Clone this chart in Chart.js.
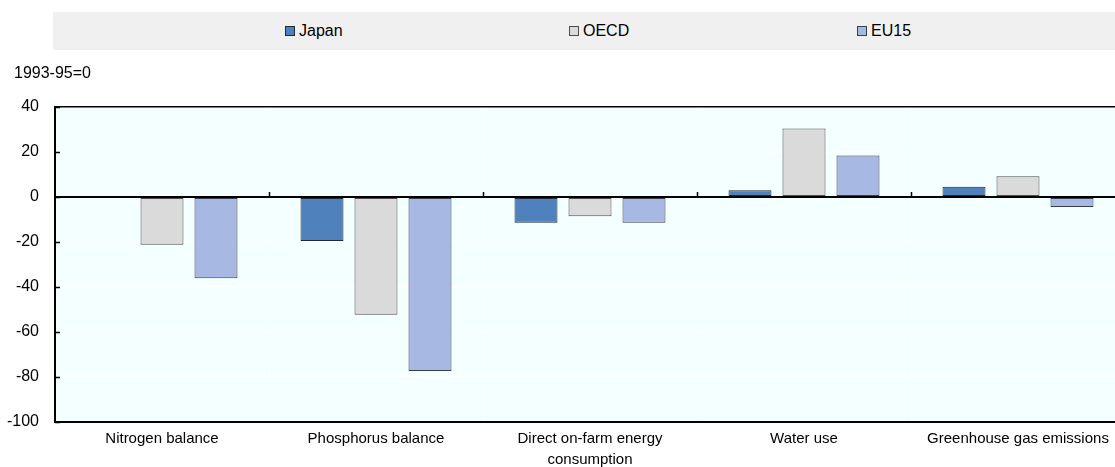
<!DOCTYPE html>
<html>
<head>
<meta charset="utf-8">
<script src="https://cdn.jsdelivr.net/npm/chart.js@4"></script>
<style>
  html, body { margin: 0; padding: 0; background: #fff; overflow: hidden; }
  #wrap { position: relative; width: 1115px; height: 467px; overflow: hidden; font-family: "Liberation Sans", Arial, sans-serif; font-size: 16px; color: #000; }
  #legend { position: absolute; left: 53px; top: 12px; width: 1062px; height: 38px; background: #f0f0f0; }
  .item { position: absolute; top: 0; height: 38px; line-height: 38px; white-space: nowrap; }
  .box { display: inline-block; width: 8px; height: 8px; border: 1px solid #000; margin-right: 4px; vertical-align: 0px; }
  #unit { position: absolute; left: 14px; top: 63px; line-height: 20px; }
  canvas { position: absolute; left: 0; top: 0; }
</style>
</head>
<body>
<div id="wrap">
  <!-- plot runs a little past the right edge, as in the reference crop -->
  <canvas id="myChart" width="1125" height="467"></canvas>
  <div id="legend"></div>
  <div id="unit">1993-95=0</div>
</div>
<script>
"use strict";

// data
const categories = ["Nitrogen balance", "Phosphorus balance", ["Direct on-farm energy", "consumption"], "Water use", "Greenhouse gas emissions"];
const japan = [-0.4, -19.6, -11.4, 3.0, 4.6];
const oecd = [-21.2, -52.3, -8.6, 30.5, 9.2];
const eu15 = [-36.1, -77.3, -11.4, 18.5, -4.4];
const yTicks = [40, 20, 0, -20, -40, -60, -80, -100];

const FONT = "'Liberation Sans', Arial, sans-serif";

const series = [
  { label: "Japan", data: japan, fill: "#4f81bd", border: "#1e2a3a", x: 285 },
  { label: "OECD", data: oecd, fill: "#dadada", border: "#4d4d4d", x: 569 },
  { label: "EU15", data: eu15, fill: "#a7b8e2", border: "#363d4f", x: 857 },
];

// html legend
const legend = document.getElementById("legend");
series.forEach((s) => {
  const el = document.createElement("div");
  el.className = "item";
  el.style.left = (s.x - 53) + "px";
  el.innerHTML = '<span class="box" style="background:' + s.fill + ";border-color:" + s.border + '"></span>' + s.label;
  legend.appendChild(el);
});

// plot background + small tick marks
const plotDeco = {
  id: "plotDeco",
  beforeDraw(chart) {
    const { ctx, chartArea: a } = chart;
    ctx.save();
    ctx.fillStyle = "#f4ffff";
    ctx.fillRect(a.left, a.top, a.right - a.left, a.bottom - a.top);
    ctx.restore();
  },
  afterDraw(chart) {
    const { ctx, chartArea: a } = chart;
    const x = chart.scales.x;
    const y = chart.scales.y;
    const y0 = y.getPixelForValue(0);
    const half = (x.getPixelForValue(1) - x.getPixelForValue(0)) / 2;
    ctx.save();
    ctx.strokeStyle = "#000";
    ctx.lineWidth = 1.5;
    ctx.beginPath();
    for (let i = 0; i < categories.length; i++) {
      const px = Math.round(x.getPixelForValue(i) + half) + 0.5;
      ctx.moveTo(px, y0);
      ctx.lineTo(px, y0 - 5);
    }
    yTicks.forEach((v) => {
      const py = Math.round(y.getPixelForValue(v)) + 0.5;
      ctx.moveTo(a.left, py);
      ctx.lineTo(a.left + 5, py);
    });
    ctx.stroke();
    // zero line on top, like the reference
    ctx.lineWidth = 2;
    ctx.beginPath();
    ctx.moveTo(a.left, y0);
    ctx.lineTo(a.right, y0);
    ctx.stroke();
    ctx.restore();
  },
};

const ctx = document.getElementById("myChart").getContext("2d");
const myChart = new Chart(ctx, {
  type: "bar",
  data: {
    labels: categories,
    datasets: series.map((s) => ({
      label: s.label,
      data: s.data,
      backgroundColor: s.fill,
      borderColor: s.border,
      borderWidth: 1,
      borderSkipped: false,
      categoryPercentage: 0.757,
      barPercentage: 0.796,
    })),
  },
  options: {
    responsive: false,
    animation: false,
    layout: { padding: { top: 107, right: 0, left: 0, bottom: 0 } },
    plugins: {
      legend: { display: false },
      tooltip: { enabled: false },
    },
    scales: {
      x: {
        grid: { color: "#ffffff", lineWidth: 1, drawTicks: false },
        border: { color: "#000", width: 2 },
        ticks: { color: "#000", font: { family: FONT, size: 15, lineHeight: 1.4 }, padding: 6, maxRotation: 0, autoSkip: false },
        afterFit(scale) { scale.height = 45; },
      },
      y: {
        min: -100,
        max: 40,
        grid: {
          drawTicks: false,
          color: (c) => (c.tick && (c.tick.value === 0 || c.tick.value === 40) ? "#000" : "#ffffff"),
          lineWidth: (c) => (c.tick && c.tick.value === 0 ? 2 : 1.5),
        },
        border: { color: "#000", width: 2 },
        ticks: { stepSize: 20, color: "#000", font: { family: FONT, size: 16 }, padding: 16 },
        afterFit(scale) { scale.width = 55; },
      },
    },
  },
  plugins: [plotDeco],
});
</script>
</body>
</html>
